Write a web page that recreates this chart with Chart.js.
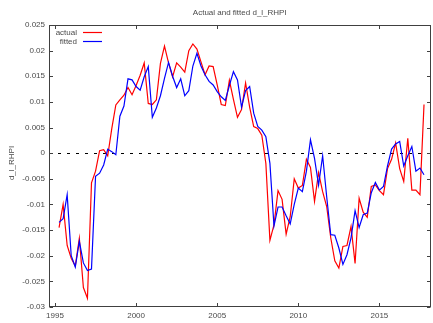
<!DOCTYPE html>
<html>
<head>
<meta charset="utf-8">
<script src="https://cdn.jsdelivr.net/npm/chart.js@4.4.1/dist/chart.umd.min.js"></script>
<style>
  html, body { margin: 0; padding: 0; background: #ffffff; }
  #wrap { width: 433px; height: 323px; }
</style>
</head>
<body>
<div id="wrap"><canvas id="chart" width="433" height="323"></canvas></div>
<script>
// Quarterly series, first observation 1995Q2
const firstYear = 1995;
const firstQuarter = 2;

const actual = [
  -0.0145, -0.0100, -0.0180, -0.0205, -0.0220, -0.0166, -0.0262, -0.0283, -0.0058, -0.0035,
   0.0005,  0.0007, -0.0005,  0.0048,  0.0094,  0.0104,  0.0113,  0.0128,  0.0114,  0.0132,
   0.0152,  0.0176,  0.0097,  0.0095,  0.0104,  0.0175,  0.0209,  0.0176,  0.0149,  0.0176,
   0.0168,  0.0158,  0.0200,  0.0213,  0.0203,  0.0178,  0.0153,  0.0170,  0.0169,  0.0133,
   0.0095,  0.0093,  0.0142,  0.0105,  0.0070,  0.0085,  0.0137,  0.0090,  0.0052,  0.0048,
   0.0035, -0.0020, -0.0170, -0.0140, -0.0073, -0.0090, -0.0158, -0.0124, -0.0050, -0.0068,
  -0.0063, -0.0012, -0.0028, -0.0094, -0.0038, -0.0075, -0.0104, -0.0165, -0.0210, -0.0224,
  -0.0182, -0.0180, -0.0143, -0.0215, -0.0088, -0.0115, -0.0125, -0.0065, -0.0062, -0.0073,
  -0.0081, -0.0030, -0.0012,  0.0020, -0.0030, -0.0055,  0.0029, -0.0072, -0.0072, -0.0081,
   0.0095
];

const fitted = [
  -0.0135, -0.0128, -0.0081, -0.0200, -0.0222, -0.0172, -0.0214, -0.0229, -0.0226, -0.0045,
  -0.0039, -0.0023,  0.0008,  0.0003, -0.0003,  0.0072,  0.0092,  0.0145,  0.0143,  0.0130,
   0.0123,  0.0149,  0.0169,  0.0070,  0.0088,  0.0112,  0.0146,  0.0177,  0.0150,  0.0128,
   0.0145,  0.0112,  0.0122,  0.0170,  0.0195,  0.0170,  0.0153,  0.0140,  0.0133,  0.0120,
   0.0110,  0.0103,  0.0132,  0.0159,  0.0143,  0.0090,  0.0122,  0.0130,  0.0078,  0.0052,
   0.0045,  0.0032, -0.0020, -0.0142, -0.0105, -0.0105, -0.0122, -0.0138, -0.0100, -0.0068,
  -0.0075, -0.0035,  0.0026, -0.0010, -0.0062, -0.0005, -0.0085, -0.0159, -0.0160, -0.0185,
  -0.0217, -0.0198, -0.0165, -0.0112, -0.0145, -0.0120, -0.0117, -0.0077, -0.0057, -0.0072,
  -0.0065, -0.0025,  0.0008,  0.0018,  0.0023, -0.0025, -0.0005,  0.0013, -0.0035, -0.0029,
  -0.0042
];

const xTickYears = [1995, 2000, 2005, 2010, 2015];
const yTickValues = [0.025, 0.02, 0.015, 0.01, 0.005, 0, -0.005, -0.01, -0.015, -0.02, -0.025, -0.03];
const seriesNames = ['actual', 'fitted'];
const seriesColors = ['#ff0000', '#0000ff'];
const titleText = 'Actual and fitted d_l_RHPI';
const yAxisTitle = 'd_l_RHPI';

// time coordinate of each quarter: year + (quarter - 1) / 4
const periods = actual.map((_, i) => firstYear + (firstQuarter - 1 + i) / 4);

const FONT_FAMILY = '"Liberation Sans", Arial, sans-serif';
const TEXT_COLOR = '#4a4a4a';
const FRAME_COLOR = '#404040';
const TICK_LEN = 3.5;

function formatTick(v) {
  const s = parseFloat(Number(v).toFixed(3)).toString();
  return s === '-0' ? '0' : s;
}

// Border box, mirrored inward tics, dashed zero line, title, axis title, key
const framePlugin = {
  id: 'frame',
  beforeDatasetsDraw(chart) {
    const { ctx, chartArea: a, scales: { y } } = chart;
    const y0 = Math.round(y.getPixelForValue(0)) + 0.5;
    ctx.save();
    ctx.strokeStyle = '#000000';
    ctx.lineWidth = 1.2;
    ctx.setLineDash([3, 6]);
    ctx.beginPath();
    ctx.moveTo(a.left, y0);
    ctx.lineTo(a.right, y0);
    ctx.stroke();
    ctx.restore();
  },
  afterDatasetsDraw(chart) {
    const { ctx, chartArea: a, scales: { x, y } } = chart;
    ctx.save();
    ctx.strokeStyle = FRAME_COLOR;
    ctx.lineWidth = 1;
    const L = Math.round(a.left) + 0.5, R = Math.round(a.right) - 0.5;
    const T = Math.round(a.top) + 0.5, B = Math.round(a.bottom) - 0.5;
    ctx.strokeRect(L, T, R - L, B - T);
    ctx.beginPath();
    yTickValues.forEach(v => {
      const py = Math.round(y.getPixelForValue(v)) + 0.5;
      ctx.moveTo(L, py); ctx.lineTo(L + TICK_LEN, py);
      ctx.moveTo(R, py); ctx.lineTo(R - TICK_LEN, py);
    });
    xTickYears.forEach(v => {
      const px = Math.round(x.getPixelForValue(v)) + 0.5;
      ctx.moveTo(px, B); ctx.lineTo(px, B - TICK_LEN);
      ctx.moveTo(px, T); ctx.lineTo(px, T + TICK_LEN);
    });
    ctx.stroke();
    ctx.restore();
  },
  afterDraw(chart) {
    const { ctx, chartArea: a } = chart;
    ctx.save();
    ctx.fillStyle = TEXT_COLOR;
    ctx.font = '8px ' + FONT_FAMILY;
    ctx.textBaseline = 'middle';

    // title
    ctx.textAlign = 'center';
    ctx.fillText(titleText, (a.left + a.right) / 2, 12.5);

    // y axis title
    ctx.save();
    ctx.translate(11.5, 163);
    ctx.rotate(-Math.PI / 2);
    ctx.fillText(yAxisTitle, 0, 0);
    ctx.restore();

    // key
    ctx.textAlign = 'right';
    const keyRows = [32.5, 41.5];
    seriesNames.forEach((name, i) => {
      ctx.fillStyle = TEXT_COLOR;
      ctx.fillText(name, 77, keyRows[i]);
      ctx.strokeStyle = seriesColors[i];
      ctx.lineWidth = 1.2;
      ctx.beginPath();
      ctx.moveTo(83, keyRows[i]);
      ctx.lineTo(102, keyRows[i]);
      ctx.stroke();
    });
    ctx.restore();
  }
};

const makeSeries = values => values.map((v, i) => ({ x: periods[i], y: v }));

new Chart(document.getElementById('chart'), {
  type: 'line',
  data: {
    datasets: [
      {
        label: seriesNames[0],
        data: makeSeries(actual),
        borderColor: seriesColors[0],
        borderWidth: 1.2,
        pointRadius: 0,
        tension: 0,
        fill: false,
        order: 1
      },
      {
        label: seriesNames[1],
        data: makeSeries(fitted),
        borderColor: seriesColors[1],
        borderWidth: 1.2,
        pointRadius: 0,
        tension: 0,
        fill: false,
        order: 0
      }
    ]
  },
  options: {
    responsive: false,
    devicePixelRatio: 1,
    animation: false,
    events: [],
    layout: { padding: { top: 25, right: 2.5, left: 0, bottom: 0 } },
    plugins: {
      legend: { display: false },
      tooltip: { enabled: false },
      title: { display: false }
    },
    scales: {
      x: {
        type: 'linear',
        min: 1994.63,
        max: 2018.15,
        afterBuildTicks: s => { s.ticks = xTickYears.map(v => ({ value: v })); },
        afterFit: s => { s.height = 16; },
        ticks: {
          callback: v => String(v),
          color: TEXT_COLOR,
          font: { family: FONT_FAMILY, size: 8 },
          padding: 4,
          maxRotation: 0,
          autoSkip: false
        },
        grid: { display: false, drawTicks: false },
        border: { display: false }
      },
      y: {
        type: 'linear',
        min: -0.03,
        max: 0.025,
        afterBuildTicks: s => { s.ticks = yTickValues.map(v => ({ value: v })); },
        afterFit: s => { s.width = 49; },
        ticks: {
          callback: v => formatTick(v),
          color: TEXT_COLOR,
          font: { family: FONT_FAMILY, size: 8 },
          padding: 4,
          autoSkip: false
        },
        grid: { display: false, drawTicks: false },
        border: { display: false }
      }
    }
  },
  plugins: [framePlugin]
});
</script>
</body>
</html>
